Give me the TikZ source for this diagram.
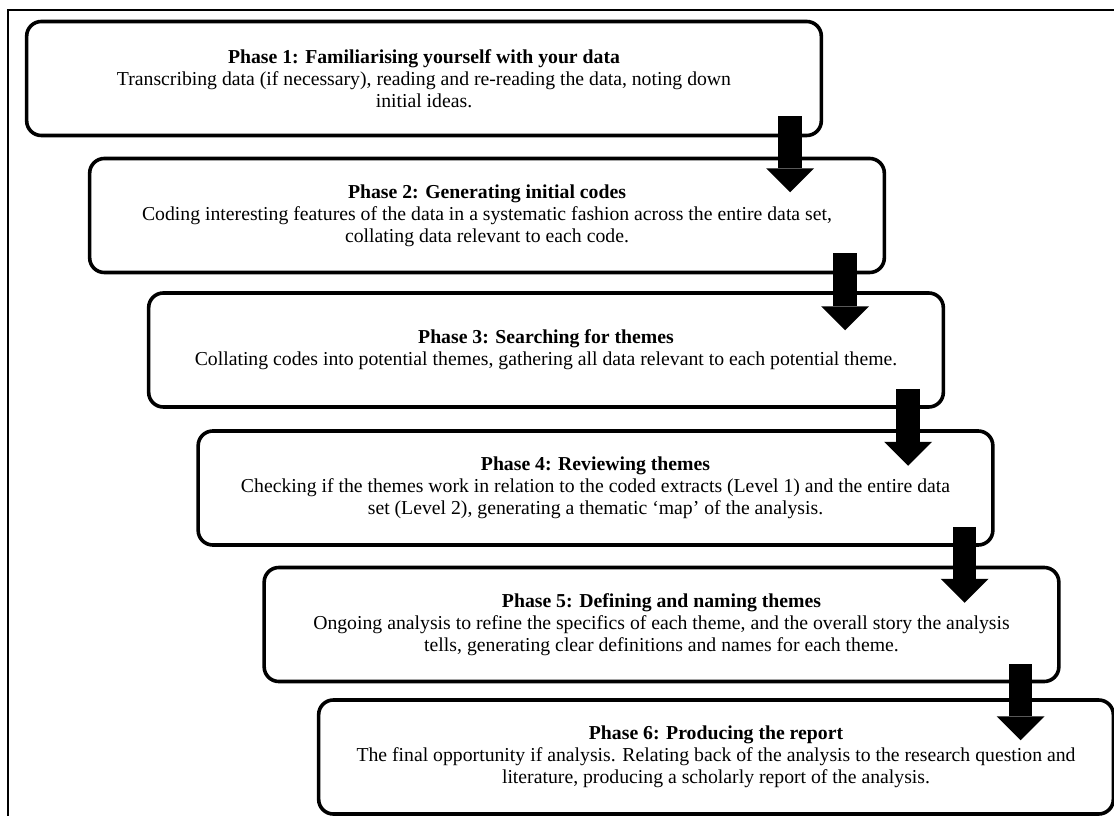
\documentclass[tikz,border=0pt]{standalone}
\usepackage{fontspec}
\setmainfont{Liberation Serif}
\usepackage{tikz}
\usetikzlibrary{arrows.meta,positioning,calc}
\tikzstyle{phase} = [rectangle, rounded corners=11pt, minimum width=596pt, minimum height=85.5pt, align=center, draw=black, line width=2.7pt, font=\fontsize{14.8}{16.5}\selectfont]
\tikzstyle{flow} = [line width=17.5pt, -{Triangle[width=36pt,length=18pt,line width=0pt]}]

\begin{document}
\begin{tikzpicture}[x=0.75pt,y=-0.75pt]
\useasboundingbox (0,0) rectangle (1114,816);
% Outer frame
\draw[line width=2.2pt] (8,830) -- (8,10) -- (1130,10);

% Phases
\node[phase] (p1) at (424,78.5) {\textbf{Phase 1: Familiarising yourself with your data}\\Transcribing data (if necessary), reading and re-reading the data, noting down\\initial ideas.};
\node[phase] (p2) at (487,215.5) {\textbf{Phase 2: Generating initial codes}\\Coding interesting features of the data in a systematic fashion across the entire data set,\\collating data relevant to each code.};
\node[phase] (p3) at (546,350) {\textbf{Phase 3: Searching for themes}\\Collating codes into potential themes, gathering all data relevant to each potential theme.};
\node[phase] (p4) at (595.5,488) {\textbf{Phase 4: Reviewing themes}\\Checking if the themes work in relation to the coded extracts (Level 1) and the entire data\\set (Level 2), generating a thematic `map' of the analysis.};
\node[phase] (p5) at (661.5,624.5) {\textbf{Phase 5: Defining and naming themes}\\Ongoing analysis to refine the specifics of each theme, and the overall story the analysis\\tells, generating clear definitions and names for each theme.};
\node[phase] (p6) at (716,757) {\textbf{Phase 6: Producing the report}\\The final opportunity if analysis. Relating back of the analysis to the research question and\\literature, producing a scholarly report of the analysis.};

% Arrows
\draw[flow] ($(p1.south east)+(-33,-21)$) -- ++(0,76);
\draw[flow] ($(p2.south east)+(-41,-21)$) -- ++(0,77);
\draw[flow] ($(p3.south east)+(-37,-20)$) -- ++(0,77);
\draw[flow] ($(p4.south east)+(-30,-20)$) -- ++(0,76);
\draw[flow] ($(p5.south east)+(-40,-19)$) -- ++(0,76);
\end{tikzpicture}
\end{document}
